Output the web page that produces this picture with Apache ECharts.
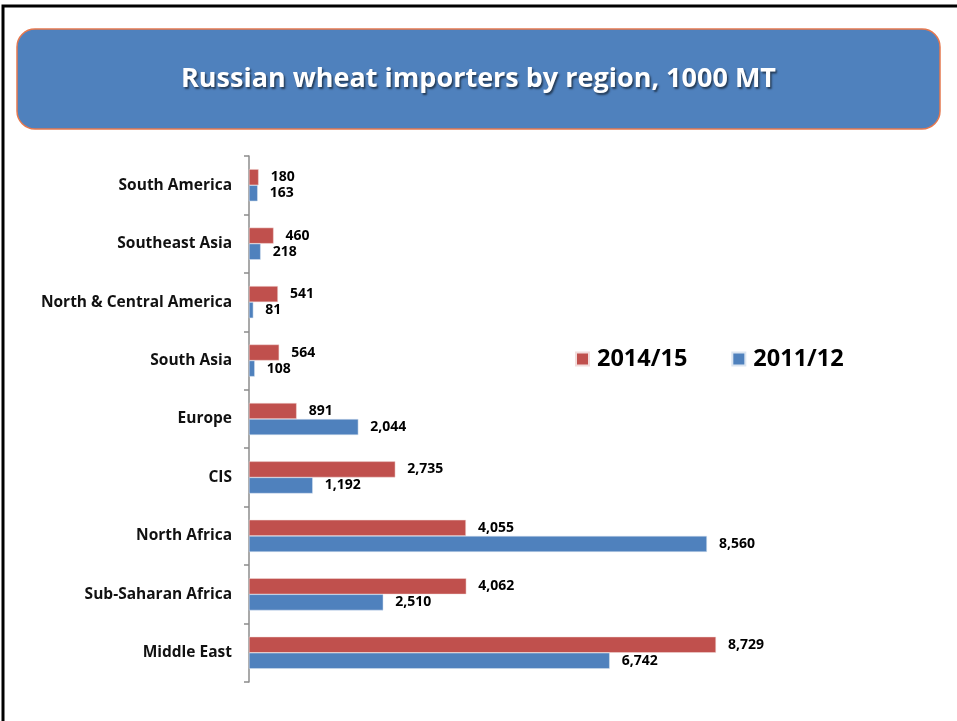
<!DOCTYPE html>
<html>
<head>
<meta charset="utf-8">
<script src="https://cdn.jsdelivr.net/npm/echarts@6/dist/echarts.min.js"></script>
<style>
  html, body { margin: 0; padding: 0; background: #fff; }
  #chart { width: 957px; height: 721px; }
</style>
</head>
<body>
<div id="chart"></div>
<script>
// regions, bottom to top (category axis draws the first one at the bottom)
const regions = ['Middle East', 'Sub-Saharan Africa', 'North Africa', 'CIS', 'Europe',
  'South Asia', 'North & Central America', 'Southeast Asia', 'South America'];
const season1415 = [8729, 4062, 4055, 2735, 891, 564, 541, 460, 180];
const season1112 = [6742, 2510, 8560, 1192, 2044, 108, 81, 218, 163];

const chart = echarts.init(document.getElementById('chart'));

const fmt = p => p.value.toLocaleString('en-US');
const labelStyle = {
  show: true,
  position: 'right',
  distance: 12,
  formatter: fmt,
  color: '#000',
  fontFamily: 'Open Sans',
  fontWeight: 'bold',
  fontSize: 14
};

chart.setOption({
  animation: false,
  graphic: [
    // slide frame
    { type: 'rect', z: -10, shape: { x: 3, y: 6, width: 960, height: 720 },
      style: { fill: 'none', stroke: '#000', lineWidth: 3 } },
    // title banner
    { type: 'rect', z: -5, shape: { x: 17, y: 29, width: 923, height: 100, r: 18 },
      style: { fill: '#4f81bd', stroke: '#e5784f', lineWidth: 1.5 } }
  ],
  title: {
    text: 'Russian wheat importers by region, 1000 MT',
    left: 'center',
    top: 61,
    textStyle: {
      color: '#fff',
      fontFamily: 'Open Sans',
      fontWeight: 'bold',
      fontSize: 27,
      textShadowColor: 'rgba(0,0,0,0.55)',
      textShadowBlur: 2,
      textShadowOffsetX: 1.5,
      textShadowOffsetY: 1.5
    }
  },
  legend: {
    left: 570,
    top: 342,
    itemWidth: 13,
    itemHeight: 13,
    itemGap: 44,
    icon: 'rect',
    textStyle: { fontFamily: 'Open Sans', fontWeight: 'bold', fontSize: 23.5, color: '#000', padding: [0, 0, 0, 3] },
    data: ['2014/15', '2011/12']
  },
  grid: { left: 249, top: 156, width: 535, bottom: 39 },
  xAxis: {
    type: 'value',
    min: 0,
    max: 10000,
    show: false
  },
  yAxis: {
    type: 'category',
    data: regions,
    axisLine: { show: true, lineStyle: { color: '#8c8c8c', width: 1.5 } },
    axisTick: { show: true, length: 5, lineStyle: { color: '#8c8c8c', width: 1.5 } },
    axisLabel: {
      margin: 17,
      color: '#111',
      fontFamily: 'Open Sans',
      fontWeight: 'bold',
      fontSize: 15.5
    }
  },
  series: [
    {
      name: '2014/15',
      type: 'bar',
      data: season1415,
      barGap: '0%',
      barCategoryGap: '45%',
      itemStyle: { color: '#c0504d', borderColor: '#f2dcdb', borderWidth: 0.5 },
      label: labelStyle
    },
    {
      name: '2011/12',
      type: 'bar',
      data: season1112,
      itemStyle: { color: '#4f81bd', borderColor: '#dbe5f1', borderWidth: 0.5 },
      label: labelStyle
    }
  ]
});
</script>
</body>
</html>
